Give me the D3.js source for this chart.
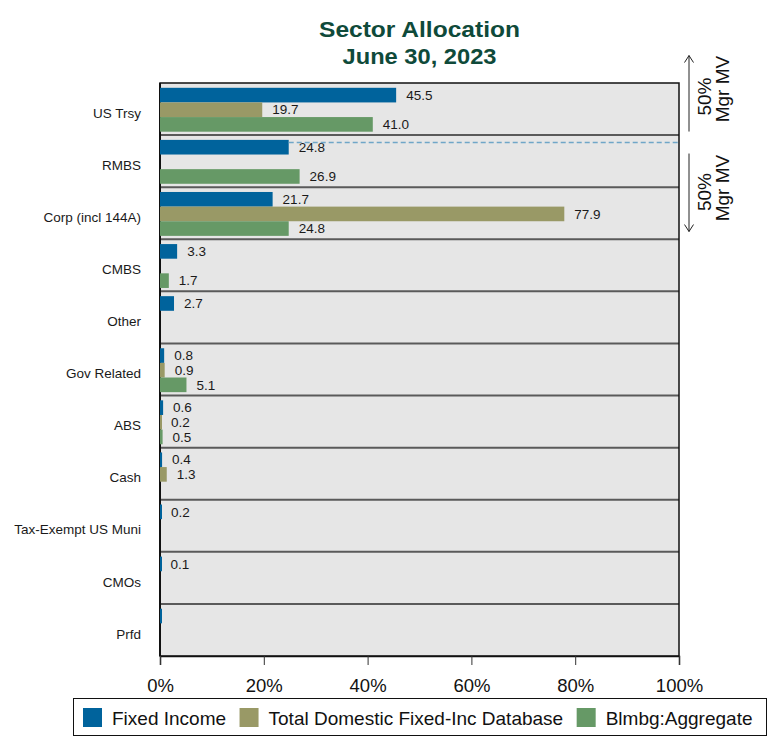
<!DOCTYPE html>
<html><head><meta charset="utf-8">
<script src="https://cdn.jsdelivr.net/npm/d3@7"></script>
<style>body{margin:0;background:#fff;font-family:Arial,"Liberation Sans",sans-serif;}</style>
</head><body><svg id="chart" width="769" height="740"></svg>
<script>
const categories = ["US Trsy","RMBS","Corp (incl 144A)","CMBS","Other","Gov Related","ABS","Cash","Tax-Exempt US Muni","CMOs","Prfd"];
const seriesNames = ["Fixed Income","Total Domestic Fixed-Inc Database","Blmbg:Aggregate"];
const fixedIncome = [45.5,24.8,21.7,3.3,2.7,0.8,0.6,0.4,0.2,0.1,0.04];
const database    = [19.7,null,77.9,null,null,0.9,0.2,1.3,null,null,null];
const aggregate   = [41.0,26.9,24.8,1.7,null,5.1,0.5,null,null,null,null];
const xTicks = [0,20,40,60,80,100];
const colors = ["#00639c","#999966","#669966"];

const FONT = "Arial, 'Liberation Sans', sans-serif";
const svg = d3.select("#chart");
const m = {left:160, right:679, top:83, bottom:656};
const x = d3.scaleLinear().domain([0,100]).range([m.left,m.right]);
const y = d3.scaleBand().domain(categories).range([m.top,m.bottom]).padding(0);
const bw = y.bandwidth();
const inner = d3.scaleBand().domain(seriesNames).range([4.8, bw-3.4]).padding(0);

// title
svg.append("text").attr("x",(m.left+m.right)/2).attr("y",37).attr("text-anchor","middle")
  .attr("font-size",22.5).attr("font-weight","bold").attr("fill","#0f4a3a")
  .attr("textLength",201).attr("lengthAdjust","spacingAndGlyphs").text("Sector Allocation");
svg.append("text").attr("x",(m.left+m.right)/2).attr("y",64).attr("text-anchor","middle")
  .attr("font-size",22.5).attr("font-weight","bold").attr("fill","#0f4a3a")
  .attr("textLength",154).attr("lengthAdjust","spacingAndGlyphs").text("June 30, 2023");

// background
svg.append("rect").attr("x",m.left).attr("y",m.top).attr("width",m.right-m.left).attr("height",m.bottom-m.top).attr("fill","#e6e6e6");

// separators
svg.append("g").selectAll("line").data(categories.slice(1)).join("line")
  .attr("x1",m.left).attr("x2",m.right).attr("y1",d=>y(d)).attr("y2",d=>y(d))
  .attr("stroke","#5a5a5a").attr("stroke-width",2);

// frame
svg.append("rect").attr("x",m.left).attr("y",m.top).attr("width",m.right-m.left).attr("height",m.bottom-m.top)
  .attr("fill","none").attr("stroke","#111").attr("stroke-width",1.5);
svg.append("line").attr("x1",m.left).attr("x2",m.left).attr("y1",m.top).attr("y2",m.bottom).attr("stroke","#111").attr("stroke-width",2);

// bars
const data = [];
categories.forEach((c,i)=>{
  [fixedIncome[i],database[i],aggregate[i]].forEach((v,j)=>{
    if(v!==null) data.push({c, s:seriesNames[j], v, j});
  });
});
svg.append("g").selectAll("rect").data(data).join("rect")
  .attr("x",x(0)).attr("y",d=>y(d.c)+inner(d.s)).attr("height",inner.bandwidth())
  .attr("width",d=>Math.max(2,x(d.v)-x(0))).attr("fill",d=>colors[d.j]);
svg.append("g").selectAll("text").data(data.filter(d=>d.v>=0.05)).join("text")
  .attr("x",d=>x(d.v)+10).attr("y",d=>y(d.c)+inner(d.s)+inner.bandwidth()/2).attr("dy","0.35em")
  .attr("font-size",13.5).attr("fill","#1a1a1a").text(d=>d3.format(".1f")(d.v));

// dashed 50% line
const cum = fixedIncome[0];
const dashY = y(categories[1]) + inner(seriesNames[0]) + (50-cum)/fixedIncome[1]*inner.bandwidth();
svg.append("line").attr("x1",x(fixedIncome[1])).attr("x2",x(100)).attr("y1",dashY).attr("y2",dashY)
  .attr("stroke","#6fa6c8").attr("stroke-width",1.5).attr("stroke-dasharray","5,3");

// category labels
svg.append("g").selectAll("text").data(categories).join("text")
  .attr("x",141).attr("y",d=>y(d)+bw/2+4).attr("dy","0.35em").attr("text-anchor","end")
  .attr("font-size",13.5).attr("fill","#1a1a1a").text(d=>d);

// x axis
const ax = svg.append("g").attr("transform",`translate(0,${m.bottom})`)
  .call(d3.axisBottom(x).tickValues(xTicks).tickSize(9).tickPadding(14).tickFormat(d=>d+"%"));
ax.select(".domain").attr("stroke","#111").attr("stroke-width",1.5);
ax.selectAll(".tick line").attr("stroke","#333");
ax.selectAll(".tick text").attr("font-size",18.5).attr("font-family",FONT).attr("fill","#111");

// right arrows
const ax0 = 689;
const g = svg.append("g").attr("stroke","#222").attr("fill","none").attr("stroke-width",1);
const upTop = dashY-87, upBot = dashY-11, dnTop = dashY+11, dnBot = dashY+89;
g.append("line").attr("x1",ax0).attr("x2",ax0).attr("y1",upTop).attr("y2",upBot);
g.append("path").attr("d",`M${ax0-4.5},${upTop+7}L${ax0},${upTop}L${ax0+4.5},${upTop+7}`);
g.append("line").attr("x1",ax0).attr("x2",ax0).attr("y1",dnTop).attr("y2",dnBot);
g.append("path").attr("d",`M${ax0-4.5},${dnBot-7}L${ax0},${dnBot}L${ax0+4.5},${dnBot-7}`);
[[dashY-46, dashY-53.5],[dashY+49.5, dashY+45.5]].forEach(([c1,c2])=>{
  svg.append("text").attr("transform",`translate(711,${c1}) rotate(-90)`).attr("text-anchor","middle")
    .attr("font-size",19).attr("fill","#111").text("50%");
  svg.append("text").attr("transform",`translate(728.5,${c2}) rotate(-90)`).attr("text-anchor","middle")
    .attr("font-size",19).attr("fill","#111").text("Mgr MV");
});

// legend
const lg = svg.append("g");
lg.append("rect").attr("x",73.5).attr("y",698.5).attr("width",693).attr("height",37).attr("fill","#fff").attr("stroke","#111").attr("stroke-width",1);
let lx = 83;
seriesNames.forEach((s,i)=>{
  lg.append("rect").attr("x",lx).attr("y",708).attr("width",19).attr("height",19).attr("fill",colors[i]);
  const t = lg.append("text").attr("x",lx+29).attr("y",725).attr("font-size",19).attr("fill","#111").text(s);
  lx += 29 + t.node().getComputedTextLength() + 13.5;
});
</script></body></html>
